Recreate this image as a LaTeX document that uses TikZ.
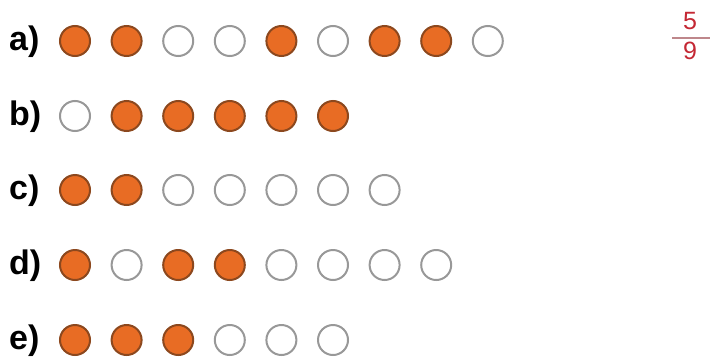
\documentclass[tikz,border=0pt]{standalone}
\usepackage{fontspec}
\setmainfont{Liberation Sans}
\definecolor{dotorange}{RGB}{232,108,36}
\definecolor{dotrim}{RGB}{140,72,30}
\definecolor{ringgray}{RGB}{152,152,152}
\definecolor{fracred}{RGB}{196,40,52}
\usetikzlibrary{positioning}

\begin{document}
\begin{tikzpicture}[
  x=1pt, y=-1pt,
  dot/.style={circle, minimum size=30pt, inner sep=0pt, line width=2pt},
  dot1/.style={dot, fill=dotorange, draw=dotrim},
  dot0/.style={dot, fill=white, draw=ringgray},
  lbl/.style={font=\fontsize{34}{34}\selectfont\bfseries, inner sep=0pt, anchor=base west},
  frac/.style={font=\fontsize{25}{25}\selectfont, text=fracred, inner sep=0pt}
]
  \useasboundingbox (0,0) rectangle (711,359);

  \foreach \row/\y/\pat in {a/41/{1,1,0,0,1,0,1,1,0}, b/116/{0,1,1,1,1,1},
      c/190/{1,1,0,0,0,0,0}, d/265/{1,0,1,1,0,0,0,0}, e/340/{1,1,1,0,0,0}} {
    \node[lbl] (lbl\row) at (9,\y+9) {\row)};
    \foreach \s [count=\i] in \pat {
      \node[dot\s] (\row\i) at ({75+51.6*(\i-1)},\y) {};
    }
  }

  % fraction for row a
  \node[frac] (num) at (690,21) {5};
  \node[frac] (den) at (690,51) {9};
  \draw[fracred!50!gray!70, line width=1.5pt] (672,38) -- (710,38);
\end{tikzpicture}
\end{document}
